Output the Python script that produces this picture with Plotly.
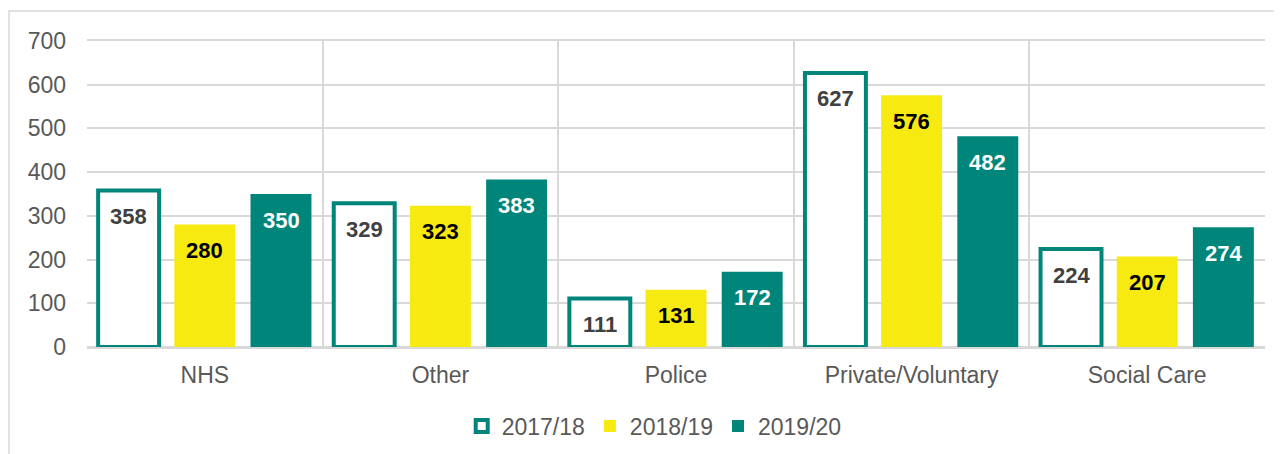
import plotly.graph_objects as go

categories = ["NHS", "Other", "Police", "Private/Voluntary", "Social Care"]
series_names = ["2017/18", "2018/19", "2019/20"]
values_1718 = [358, 329, 111, 627, 224]
values_1819 = [280, 323, 131, 576, 207]
values_1920 = [350, 383, 172, 482, 274]
y_ticks = [0, 100, 200, 300, 400, 500, 600, 700]

TEAL = "#00857A"
YELLOW = "#F7EA10"
FONT = "Liberation Sans, Arial, sans-serif"
GRID = "#D9D9D9"
TXT = "#595959"

fig = go.Figure()
fig.add_trace(go.Bar(name=series_names[0], x=categories, y=values_1718,
                     marker=dict(color="white", line=dict(color=TEAL, width=4))))
fig.add_trace(go.Bar(name=series_names[1], x=categories, y=values_1819,
                     marker=dict(color=YELLOW, line=dict(width=0))))
fig.add_trace(go.Bar(name=series_names[2], x=categories, y=values_1920,
                     marker=dict(color=TEAL, line=dict(width=0))))

# data labels inside bars near the top
slot_px = 76.2
label_specs = [(values_1718, -slot_px, "#404040"),
               (values_1819, 0, "#000000"),
               (values_1920, slot_px, "#FFFFFF")]
for vals, xs, col in label_specs:
    for cat, v in zip(categories, vals):
        fig.add_annotation(x=cat, y=v, text=f"<b>{v}</b>", showarrow=False,
                           xshift=xs, yshift=-26, yanchor="middle",
                           font=dict(family=FONT, size=22, color=col))

# outer chart border
fig.add_shape(type="rect", xref="paper", yref="paper",
              x0=-0.0662, x1=1.03, y0=-0.6, y1=1.098,
              line=dict(color=GRID, width=1.5), fillcolor="rgba(0,0,0,0)", layer="below")

fig.update_layout(
    width=1274, height=446,
    margin=dict(l=79, r=17, t=33, b=107, autoexpand=False),
    paper_bgcolor="white", plot_bgcolor="white",
    barmode="group", bargap=0.03, bargroupgap=0.2,
    font=dict(family=FONT, size=23, color=TXT),
    showlegend=True,
    legend=dict(orientation="h", x=0.4815, xanchor="center", y=-0.258, yanchor="middle",
                font=dict(family=FONT, size=23, color=TXT), itemwidth=30,
                traceorder="normal"),
)
fig.update_xaxes(type="category", tickson="boundaries", showgrid=True,
                 gridcolor=GRID, gridwidth=1.5, showline=True, linecolor=GRID,
                 linewidth=1.5, mirror=True, ticks="", ticklabelstandoff=7,
                 tickfont=dict(family=FONT, size=23, color=TXT))
fig.update_yaxes(range=[0, 700], tickvals=y_ticks, showgrid=True, gridcolor=GRID,
                 gridwidth=1.5, zeroline=True, zerolinecolor=GRID, zerolinewidth=1.5,
                 showline=False, ticks="", ticklabelstandoff=20,
                 tickfont=dict(family=FONT, size=23, color=TXT))

fig.write_html("out.html")
